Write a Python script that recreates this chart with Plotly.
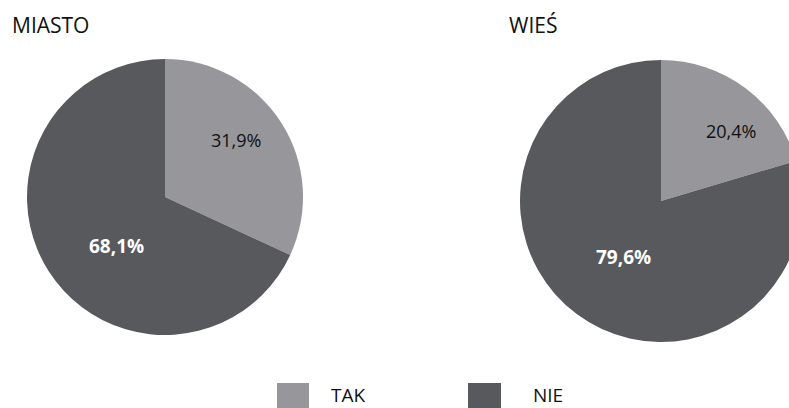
import plotly.graph_objects as go

categories = ["TAK", "NIE"]
groups = ["MIASTO", "WIEŚ"]
miasto_values = [31.9, 68.1]
wies_values = [20.4, 79.6]

colors = ["#97979b", "#58595d"]
W, H = 810, 408

def px_x(x):
    return x / W

def px_y(y):
    return 1 - y / H

fig = go.Figure()

# pie geometry in pixels: (cx, cy, r)
geoms = [(165, 197, 138), (661, 201, 141)]
series = [miasto_values, wies_values]

for name, vals, (cx, cy, r) in zip(groups, series, geoms):
    fig.add_trace(go.Pie(
        labels=categories,
        values=vals,
        name=name,
        sort=False,
        direction="clockwise",
        rotation=0,
        marker=dict(colors=colors, line=dict(width=0)),
        textinfo="none",
        hoverinfo="label+percent",
        showlegend=False,
        domain=dict(x=[px_x(cx - r), px_x(cx + r)], y=[px_y(cy + r), px_y(cy - r)]),
    ))

def fmt(v):
    return f"{v:.1f}".replace(".", ",") + "%"

annotations = []
# titles
title_pos = [(10, 25), (507, 25)]
for g, (x, y) in zip(groups, title_pos):
    annotations.append(dict(text=g, x=px_x(x), y=px_y(y), xref="paper", yref="paper",
                            xanchor="left", yanchor="middle", showarrow=False,
                            font=dict(size=21, color="#111111")))

# value labels
label_pos = [[(236, 140), (116, 246)], [(731, 131), (623, 257)]]
for vals, poss in zip(series, label_pos):
    for i, (v, (x, y)) in enumerate(zip(vals, poss)):
        if i == 0:
            font = dict(size=18, color="#111111")
            txt = fmt(v)
        else:
            font = dict(size=19, color="#ffffff")
            txt = "<b>" + fmt(v) + "</b>"
        annotations.append(dict(text=txt, x=px_x(x), y=px_y(y), xref="paper", yref="paper",
                                xanchor="center", yanchor="middle", showarrow=False, font=font))

# custom legend
legend_sq = [(277, 309), (468, 501)]
legend_txt_x = [329, 531]
shapes = []
for cat, col, (x0, x1), tx in zip(categories, colors, legend_sq, legend_txt_x):
    shapes.append(dict(type="rect", xref="paper", yref="paper",
                       x0=px_x(x0), x1=px_x(x1), y0=px_y(412), y1=px_y(383),
                       fillcolor=col, line=dict(width=0)))
    annotations.append(dict(text=cat, x=px_x(tx), y=px_y(395), xref="paper", yref="paper",
                            xanchor="left", yanchor="middle", showarrow=False,
                            font=dict(size=19, color="#111111")))

fig.update_layout(
    width=W, height=H,
    margin=dict(l=0, r=0, t=0, b=0),
    paper_bgcolor="white",
    plot_bgcolor="white",
    font=dict(family="Open Sans, Arial, sans-serif"),
    annotations=annotations,
    shapes=shapes,
    showlegend=False,
)

fig.write_html(
    "out.html",
    config={"displayModeBar": False},
    post_script="document.body.style.margin='0';document.body.style.overflow='hidden';document.documentElement.style.overflow='hidden';",
)
